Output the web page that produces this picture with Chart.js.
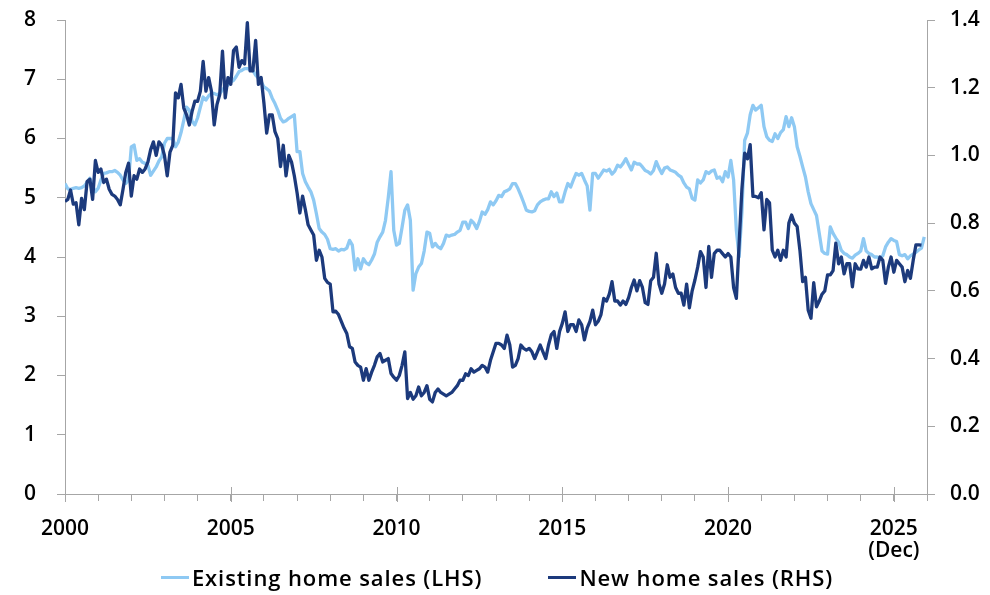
<!DOCTYPE html>
<html>
<head>
<meta charset="utf-8">
<script src="https://cdn.jsdelivr.net/npm/chart.js@4.4.0/dist/chart.umd.min.js"></script>
<style>
  html, body { margin: 0; padding: 0; background: #fff; }
  #caixa { position: relative; width: 990px; height: 595px; }
  #legenda {
    position: absolute; left: 2px; top: 563px; width: 990px; height: 28px;
    display: flex; justify-content: center; gap: 66px;
    font-family: 'Open Sans', sans-serif; font-size: 22px; font-weight: 600; letter-spacing: 0.9px; color: #000;
  }
  #legenda .item { display: flex; align-items: center; white-space: nowrap; }
  #legenda .linha { display: inline-block; width: 28px; height: 3px; margin-right: 3px; }
</style>
</head>
<body>
<div id="caixa">
  <canvas id="grafico" width="990" height="595"></canvas>
  <div id="legenda"></div>
</div>
<script>
// eixos
const anoInicio = 2000;
const anoFim = 2026;
const anosRotulo = [2000, 2005, 2010, 2015, 2020, 2025];
const passoEsq = 1;     // 0 .. 8
const passoDir = 0.2;   // 0.0 .. 1.4

// Existing home sales, mn (LHS) - mensal, jan/2000 a dez/2025
const vendasUsadas = [
  5.24, 5.15, 5.14, 5.16, 5.17, 5.16, 5.17, 5.20, 5.26, 5.33, 5.20, 5.10,
  5.16, 5.30, 5.41, 5.42, 5.44, 5.44, 5.46, 5.43, 5.38, 5.30, 5.24, 5.30,
  5.86, 5.89, 5.63, 5.66, 5.60, 5.58, 5.55, 5.38, 5.45, 5.52, 5.62, 5.69,
  5.92, 6.00, 6.00, 6.00, 5.86, 5.94, 6.10, 6.31, 6.53, 6.48, 6.29, 6.23,
  6.35, 6.53, 6.70, 6.65, 6.72, 6.76, 6.76, 6.74, 6.76, 6.82, 6.88, 6.90,
  6.95, 6.98, 7.05, 7.13, 7.15, 7.18, 7.18, 7.16, 7.15, 7.07, 7.02, 6.96,
  6.87, 6.84, 6.80, 6.68, 6.59, 6.48, 6.34, 6.28, 6.30, 6.34, 6.37, 6.40,
  5.78, 5.78, 5.41, 5.27, 5.18, 5.10, 4.96, 4.73, 4.48, 4.42, 4.38, 4.30,
  4.14, 4.13, 4.14, 4.10, 4.13, 4.12, 4.15, 4.28, 4.20, 3.78, 3.97, 3.80,
  3.97, 3.90, 3.87, 3.95, 4.05, 4.25, 4.34, 4.42, 4.62, 5.00, 5.44, 4.45,
  4.20, 4.23, 4.50, 4.79, 4.88, 4.62, 3.44, 3.72, 3.83, 3.89, 4.10, 4.42,
  4.40, 4.17, 4.23, 4.17, 4.14, 4.23, 4.37, 4.35, 4.37, 4.38, 4.42, 4.45,
  4.59, 4.59, 4.48, 4.62, 4.57, 4.48, 4.60, 4.76, 4.72, 4.80, 4.93, 4.88,
  4.95, 5.04, 5.02, 5.10, 5.12, 5.15, 5.24, 5.24, 5.15, 5.04, 4.92, 4.79,
  4.77, 4.76, 4.78, 4.88, 4.93, 4.96, 4.98, 4.98, 5.10, 5.02, 5.08, 4.93,
  4.93, 5.10, 5.24, 5.18, 5.30, 5.41, 5.38, 5.41, 5.30, 5.20, 4.79, 5.41,
  5.41, 5.33, 5.40, 5.47, 5.45, 5.48, 5.40, 5.45, 5.55, 5.52, 5.58, 5.66,
  5.56, 5.47, 5.60, 5.57, 5.57, 5.52, 5.46, 5.44, 5.40, 5.46, 5.61, 5.50,
  5.41, 5.50, 5.52, 5.47, 5.45, 5.43, 5.38, 5.35, 5.25, 5.18, 5.15, 4.99,
  4.96, 5.30, 5.25, 5.30, 5.44, 5.41, 5.45, 5.47, 5.33, 5.35, 5.27, 5.44,
  5.35, 5.63, 5.30, 4.45, 4.00, 4.75, 5.97, 6.09, 6.40, 6.56, 6.48, 6.52,
  6.56, 6.20, 6.03, 5.97, 5.95, 6.08, 6.00, 6.10, 6.15, 6.37, 6.20, 6.35,
  6.20, 5.86, 5.70, 5.52, 5.35, 5.10, 4.90, 4.80, 4.70, 4.40, 4.10, 4.06,
  4.05, 4.51, 4.40, 4.32, 4.25, 4.11, 4.06, 4.04, 4.00, 3.98, 4.03, 4.06,
  4.10, 4.31, 4.10, 4.06, 4.04, 4.00, 4.00, 3.98, 4.02, 4.17, 4.25, 4.31,
  4.28, 4.26, 4.04, 4.02, 4.04, 3.97, 4.02, 4.05, 4.08, 4.12, 4.15, 4.34
];

// New home sales, mn (RHS) - mensal, jan/2000 a nov/2025
const vendasNovas = [
  0.864, 0.87, 0.898, 0.856, 0.86, 0.795, 0.873, 0.84, 0.923, 0.93, 0.87, 0.985,
  0.95, 0.96, 0.92, 0.93, 0.90, 0.885, 0.88, 0.87, 0.854, 0.90, 0.95, 0.977,
  0.88, 0.94, 0.93, 0.96, 0.95, 0.96, 0.98, 1.017, 1.04, 1.00, 1.04, 1.03,
  1.00, 0.94, 1.01, 1.03, 1.185, 1.17, 1.21, 1.14, 1.12, 1.09, 1.13, 1.16,
  1.16, 1.19, 1.278, 1.19, 1.23, 1.19, 1.09, 1.15, 1.18, 1.308, 1.17, 1.23,
  1.21, 1.31, 1.32, 1.26, 1.28, 1.27, 1.392, 1.25, 1.25, 1.34, 1.21, 1.23,
  1.155, 1.066, 1.12, 1.12, 1.07, 1.05, 0.967, 1.03, 0.94, 1.00, 0.98, 0.94,
  0.89, 0.83, 0.88, 0.84, 0.795, 0.78, 0.765, 0.69, 0.72, 0.70, 0.637, 0.625,
  0.62, 0.538, 0.54, 0.53, 0.51, 0.49, 0.474, 0.435, 0.43, 0.39, 0.38, 0.375,
  0.336, 0.37, 0.336, 0.36, 0.38, 0.405, 0.415, 0.39, 0.395, 0.40, 0.356, 0.345,
  0.336, 0.35, 0.38, 0.42, 0.282, 0.30, 0.28, 0.29, 0.316, 0.29, 0.30, 0.32,
  0.28, 0.272, 0.30, 0.31, 0.30, 0.295, 0.29, 0.295, 0.30, 0.31, 0.32, 0.336,
  0.336, 0.355, 0.35, 0.37, 0.36, 0.365, 0.37, 0.38, 0.375, 0.36, 0.395, 0.42,
  0.445, 0.445, 0.44, 0.43, 0.469, 0.44, 0.375, 0.38, 0.40, 0.44, 0.43, 0.425,
  0.43, 0.42, 0.40, 0.42, 0.44, 0.42, 0.40, 0.44, 0.47, 0.48, 0.43, 0.48,
  0.504, 0.538, 0.48, 0.50, 0.50, 0.48, 0.514, 0.50, 0.455, 0.49, 0.51, 0.543,
  0.50, 0.51, 0.53, 0.578, 0.57, 0.59, 0.627, 0.57, 0.57, 0.558, 0.57, 0.56,
  0.58, 0.61, 0.632, 0.60, 0.63, 0.61, 0.565, 0.56, 0.63, 0.64, 0.711, 0.62,
  0.593, 0.62, 0.677, 0.64, 0.65, 0.61, 0.593, 0.593, 0.558, 0.62, 0.55, 0.60,
  0.632, 0.67, 0.716, 0.70, 0.61, 0.731, 0.64, 0.71, 0.72, 0.72, 0.71, 0.70,
  0.71, 0.70, 0.61, 0.578, 0.74, 0.90, 1.007, 0.99, 1.032, 0.879, 0.879, 0.875,
  0.89, 0.78, 0.87, 0.86, 0.72, 0.70, 0.72, 0.69, 0.72, 0.70, 0.80, 0.824,
  0.80, 0.79, 0.72, 0.627, 0.64, 0.543, 0.519, 0.624, 0.553, 0.57, 0.59, 0.60,
  0.647, 0.647, 0.66, 0.741, 0.68, 0.70, 0.65, 0.68, 0.68, 0.612, 0.68, 0.665,
  0.664, 0.69, 0.67, 0.70, 0.665, 0.67, 0.67, 0.70, 0.69, 0.622, 0.67, 0.70,
  0.655, 0.69, 0.68, 0.67, 0.627, 0.66, 0.637, 0.69, 0.736, 0.736, 0.735
];

const corUsadas = '#8ec9f3';
const corNovas = '#1c3a7c';
const cinzaEixo = '#a6a6a6';
const fonteEixo = { family: "'Open Sans', sans-serif", size: 21, weight: 600, lineHeight: 1.05 };

// mes i -> ano decimal
function pontos(valores) {
    return valores.map((v, i) => ({ x: anoInicio + i / 12, y: v }));
}

// o padding dos ticks empurrava a area do grafico para baixo
function fixarLargura(largura) {
    return s => {
        s.width = largura;
        s.paddingTop = 11;
        s.paddingBottom = 11;
    };
}

// marcas maiores do eixo x cruzam a linha do eixo
const marcasMaiores = {
    id: 'marcasMaiores',
    afterDraw(chart) {
        const eixo = chart.scales.x;
        const c = chart.ctx;
        c.save();
        c.strokeStyle = cinzaEixo;
        c.lineWidth = 1;
        anosRotulo.forEach(ano => {
            let px = Math.round(eixo.getPixelForValue(ano)) + 0.5;
            c.beginPath();
            c.moveTo(px, eixo.top - 7);
            c.lineTo(px, eixo.top + 8);
            c.stroke();
        });
        c.restore();
    }
};

const ctx = document.getElementById('grafico').getContext('2d');
const grafico = new Chart(ctx, {
    type: 'line',
    data: {
        datasets: [
            {
                label: 'Existing home sales (LHS)',
                data: pontos(vendasUsadas),
                yAxisID: 'yEsq',
                borderColor: corUsadas,
                backgroundColor: corUsadas,
                borderWidth: 3.3,
                borderJoinStyle: 'round',
                pointRadius: 0,
                tension: 0,
                order: 1
            },
            {
                label: 'New home sales (RHS)',
                data: pontos(vendasNovas),
                yAxisID: 'yDir',
                borderColor: corNovas,
                backgroundColor: corNovas,
                borderWidth: 3.3,
                borderJoinStyle: 'round',
                pointRadius: 0,
                tension: 0,
                order: 0
            }
        ]
    },
    options: {
        responsive: false,
        animation: false,
        devicePixelRatio: 1,
        layout: { padding: { top: 20, bottom: 21, left: 0, right: 0 } },
        plugins: {
            legend: { display: false },
            tooltip: { enabled: false }
        },
        scales: {
            x: {
                type: 'linear',
                min: anoInicio,
                max: anoFim,
                ticks: {
                    stepSize: 1,
                    autoSkip: false,
                    maxRotation: 0,
                    padding: 17,
                    color: '#000',
                    font: fonteEixo,
                    callback: v => {
                        if (v === 2025) return ['2025', '(Dec)'];
                        return anosRotulo.includes(v) ? String(v) : '';
                    }
                },
                grid: { drawOnChartArea: false, tickLength: 7, color: cinzaEixo, tickColor: cinzaEixo },
                border: { display: true, color: cinzaEixo, width: 1 },
                afterFit: s => { s.height = 80; }
            },
            yEsq: {
                position: 'left',
                min: 0,
                max: 8,
                ticks: { stepSize: passoEsq, padding: 21, color: '#000', font: fonteEixo },
                grid: { drawOnChartArea: false, tickLength: 8, color: cinzaEixo, tickColor: cinzaEixo },
                border: { display: true, color: cinzaEixo, width: 1 },
                afterFit: fixarLargura(65)
            },
            yDir: {
                position: 'right',
                min: 0,
                max: 1.4,
                ticks: {
                    stepSize: passoDir, padding: 15, color: '#000', font: fonteEixo,
                    callback: v => v.toFixed(1)
                },
                grid: { drawOnChartArea: false, tickLength: 8, color: cinzaEixo, tickColor: cinzaEixo },
                border: { display: true, color: cinzaEixo, width: 1 },
                afterFit: fixarLargura(63)
            }
        }
    },
    plugins: [marcasMaiores]
});

// legenda em HTML, a partir dos datasets
const legenda = document.getElementById('legenda');
grafico.data.datasets.forEach(ds => {
    let item = document.createElement('span');
    item.className = 'item';
    let linha = document.createElement('span');
    linha.className = 'linha';
    linha.style.background = ds.borderColor;
    item.appendChild(linha);
    item.appendChild(document.createTextNode(ds.label));
    legenda.appendChild(item);
});
</script>
</body>
</html>
